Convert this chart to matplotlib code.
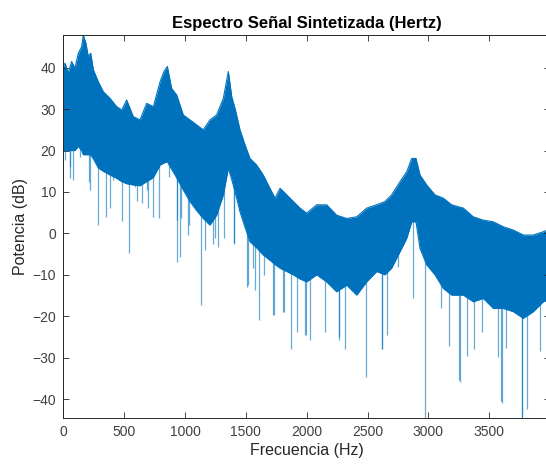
import numpy as np
import matplotlib
matplotlib.use("Agg")
import matplotlib.pyplot as plt

plt.rcParams['font.family'] = ['Liberation Sans', 'DejaVu Sans']

# Envelope of the dense spectrum band (frequency in Hz, power in dB)
env_f = [0, 14, 41, 68, 96, 123, 151, 164, 186, 205, 225, 247, 288, 329, 384, 439,
         480, 521, 575, 630, 685, 740, 795, 827, 855, 890, 932, 986, 1041, 1096,
         1150, 1205, 1260, 1315, 1356, 1384, 1411, 1452, 1493, 1534, 1589, 1643,
         1698, 1740, 1781, 1836, 1890, 1945, 2000, 2082, 2164, 2246, 2329, 2411,
         2493, 2575, 2643, 2698, 2767, 2822, 2863, 2898, 2931, 2986, 3054, 3123,
         3191, 3287, 3369, 3451, 3533, 3615, 3698, 3780, 3862, 3944, 4000]
env_upper = [40.3, 41.1, 38.7, 41.5, 39.9, 43.5, 45.1, 47.9, 45.9, 42.7, 43.5, 39.5,
             36.6, 34.2, 32.6, 30.6, 29.8, 32.2, 28.2, 27.4, 31.4, 30.6, 36.6, 39.1,
             40.3, 35.0, 33.4, 28.6, 27.4, 26.2, 25.0, 27.4, 28.6, 32.6, 39.1, 33.0,
             30.2, 25.0, 21.4, 18.1, 16.5, 14.1, 10.9, 8.5, 10.9, 9.3, 7.7, 6.1, 4.9,
             6.9, 6.9, 4.4, 3.6, 4.0, 6.1, 6.9, 7.7, 9.3, 12.5, 14.9, 18.1, 18.1, 14.1,
             11.7, 9.3, 8.5, 6.9, 6.1, 4.0, 3.2, 2.8, 1.6, 0.8, -0.4, -0.4, 0.4, 1.0]
env_lower = [20, 20, 20, 20, 20, 21, 20, 19, 19, 19, 19, 18, 15.8, 15, 14.1, 13.3,
             12.5, 12, 11.7, 11.5, 12.5, 13.5, 16.5, 17, 17.3, 15.5, 13.4, 10.5, 7.7,
             5.5, 3.6, 2.0, 4.4, 9.3, 15.7, 13, 10.1, 5.2, 1.5, -2.0, -3.5, -5.2,
             -6.5, -7.5, -8.4, -9.2, -10.0, -11, -11.7, -10, -11.7, -14.1, -12.5,
             -14.9, -11.7, -9.2, -10, -8.4, -4.4, -1.2, 2.8, 2.8, -3.6, -7.6, -10,
             -13.3, -14.9, -14.9, -16.5, -15.7, -18.1, -18.1, -18.9, -20.5, -18.9,
             -16.5, -16]

# Downward spikes below the band (frequency in Hz, power in dB)
spike_f = [14, 55, 57, 82, 137, 214, 219, 288, 351, 384, 406, 480, 542, 589, 603,
           644, 685, 698, 740, 789, 871, 932, 937, 959, 967, 1027, 1033, 1074, 1129,
           1164, 1233, 1247, 1274, 1320, 1403, 1405, 1512, 1520, 1561, 1575, 1608,
           1652, 1726, 1731, 1808, 1816, 1869, 1918, 1986, 1994, 2027, 2150, 2265,
           2268, 2315, 2485, 2616, 2622, 2657, 2753, 2876, 2972, 3101, 3172, 3254,
           3260, 3320, 3375, 3443, 3569, 3597, 3602, 3638, 3767, 3772, 3808, 3917]
spike_db = [17.7, 13.4, 16.1, 13.0, 18.5, 12.5, 10.5, 2.1, 4.0, 6.1, 12.9, 2.9, -4.8,
            11.3, 7.7, 7.3, 10.5, 6.1, 4.0, 3.7, 13.7, -6.8, 3.2, -5.6, 3.6, -0.4,
            2.0, 10.9, -17.3, -4.0, -2.5, -1.2, -3.3, -1.2, -2.4, -2.5, -12.9, -12.5,
            -8.4, -13.7, -20.9, -10.0, -19.7, -19.7, -18.9, -18.9, -27.8, -23.8,
            -24.6, -24.6, -25.8, -23.8, -25.8, -25.0, -27.8, -34.7, -27.8, -27.8,
            -24.6, -8.2, -15.5, -44.5, -18.1, -27.3, -35.4, -36.0, -29.7, -28.0,
            -23.8, -29.9, -40.5, -41.0, -27.6, -44.5, -44.3, -42.4, -28.4]

xticks = [0, 500, 1000, 1500, 2000, 2500, 3000, 3500]
yticks = [-40, -30, -20, -10, 0, 10, 20, 30, 40]

blue = '#0072BD'
dark = '#262626'

fig = plt.figure(figsize=(5.46, 4.67), dpi=100)
ax = fig.add_axes([63.3 / 546, 49.3 / 467, (550.1 - 63.3) / 546, (417.7 - 35) / 467])

ax.fill_between(env_f, env_lower, env_upper, color=blue, lw=0)
ax.plot(env_f, env_upper, color=blue, lw=0.8)
ax.plot(env_f, env_lower, color=blue, lw=0.8)
tops = np.interp(spike_f, env_f, env_lower) + 1.0
ax.vlines(spike_f, spike_db, tops, color=blue, alpha=0.6, lw=0.9)

ax.set_xlim(0, 4000)
ax.set_ylim(-44.5, 47.9)
ax.set_xticks(xticks)
ax.set_yticks(yticks)
ax.tick_params(direction='in', length=4, width=0.6, colors=dark, labelsize=10,
               top=True, right=True, pad=5)
for lbl in ax.get_xticklabels() + ax.get_yticklabels():
    lbl.set_color('#404040')
for s in ax.spines.values():
    s.set_color(dark)
    s.set_linewidth(0.7)

ax.set_title('Espectro Señal Sintetizada (Hertz)', fontsize=12, fontweight='bold',
             color='black', pad=5)
ax.set_xlabel('Frecuencia (Hz)', fontsize=11.5, color=dark, labelpad=3)
ax.set_ylabel('Potencia (dB)', fontsize=11.5, color=dark, labelpad=3)

fig.savefig('out.png', dpi=100)
